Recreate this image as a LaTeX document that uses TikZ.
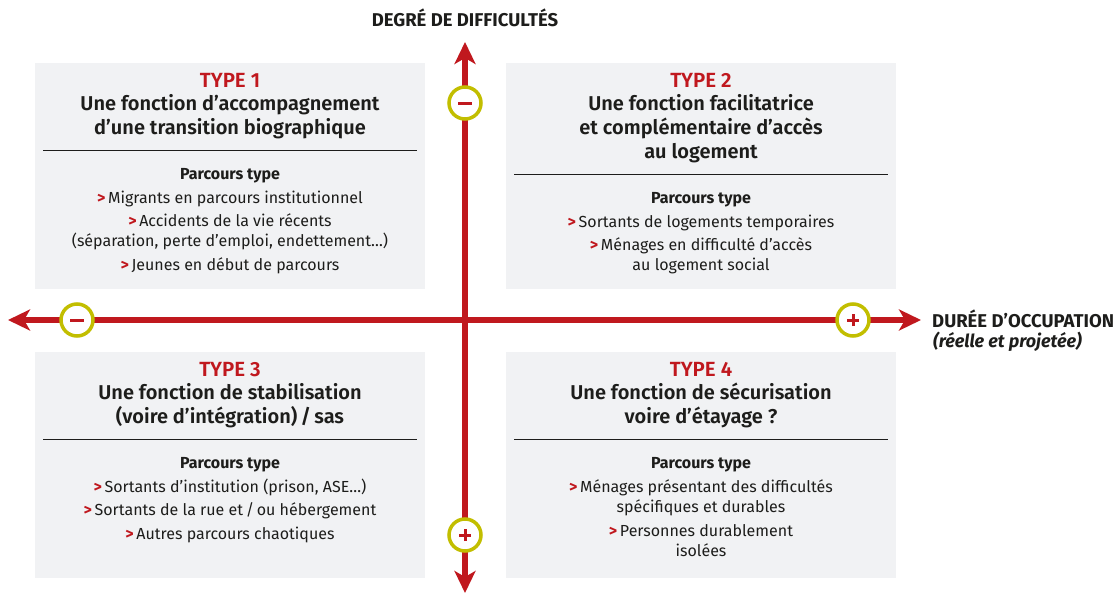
\documentclass[tikz,border=0pt]{standalone}
\usepackage{fontspec}
\setmainfont{Fira Sans}[BoldFont={Fira Sans SemiBold},BoldItalicFont={Fira Sans SemiBold Italic}]
\newfontfamily\firabold{Fira Sans}[UprightFont={Fira Sans Bold},ItalicFont={Fira Sans Bold Italic}]
\usetikzlibrary{arrows.meta}
\definecolor{axred}{HTML}{C0181E}
\definecolor{olive}{HTML}{C2BE00}
\definecolor{boxgray}{HTML}{F1F2F4}
\definecolor{ink}{HTML}{1D1D1B}
\newcommand{\mk}{{\color{axred}\firabold >}\,}
\begin{document}
\begin{tikzpicture}[x=1pt,y=-1pt,
  qbox/.style={fill=boxgray,draw=none,minimum width=390pt,minimum height=226pt,inner sep=0pt},
  typelbl/.style={anchor=base,text=axred,font=\fontsize{20.5}{22}\selectfont\bfseries,inner sep=0pt},
  titlelbl/.style={anchor=base,text=ink,font=\fontsize{20}{22}\selectfont\bfseries,inner sep=0pt},
  ptlbl/.style={anchor=base,text=ink,font=\fontsize{16}{18}\selectfont\firabold,inner sep=0pt},
  itemlbl/.style={anchor=base,text=ink,font=\fontsize{16}{18}\selectfont,inner sep=0pt},
  axlbl/.style={text=ink,font=\fontsize{18.5}{20}\selectfont\firabold,inner sep=0pt},
  rulel/.style={draw=ink,line width=1pt},
  axis/.style={draw=axred,line width=5.5pt,{Stealth[length=22pt,width=21pt,inset=6pt]}-{Stealth[length=22pt,width=21pt,inset=6pt]}},
  ring/.style={circle,draw=olive,line width=3.5pt,fill=white,minimum size=32pt,inner sep=0pt},
  sign/.style={draw=axred,line width=3pt}
]
\useasboundingbox (0,0) rectangle (1115,594);
% boxes
\node[qbox] (b1) at (230,176) {};
\node[qbox] (b2) at (701,176) {};
\node[qbox] (b3) at (230,464.5) {};
\node[qbox] (b4) at (701,464.5) {};
% axes
\coordinate (ytop) at (465,42);
\coordinate (ybot) at (465,593);
\coordinate (xleft) at (8,320);
\coordinate (xright) at (921,320);
\draw[axis] (ybot) -- (ytop);
\draw[axis] (xleft) -- (xright);
% rings
\node[ring] (c1) at (465,103) {};
\node[ring] (c2) at (77,320) {};
\node[ring] (c3) at (853,320) {};
\node[ring] (c4) at (465,535) {};
\draw[sign] ([xshift=-7pt]c1.center) -- ([xshift=7pt]c1.center);
\draw[sign] ([xshift=-7pt]c2.center) -- ([xshift=7pt]c2.center);
\draw[sign] ([xshift=-6pt]c3.center) -- ([xshift=6pt]c3.center);
\draw[sign] ([yshift=-6pt]c3.center) -- ([yshift=6pt]c3.center);
\draw[sign] ([xshift=-6pt]c4.center) -- ([xshift=6pt]c4.center);
\draw[sign] ([yshift=-6pt]c4.center) -- ([yshift=6pt]c4.center);
% axis labels
\node[axlbl,anchor=base] (ly) at (465,27) {DEGRÉ DE DIFFICULTÉS};
\node[axlbl,anchor=base west] (lx) at (932,327) {DURÉE D’OCCUPATION};
\node[axlbl,anchor=base west,font=\fontsize{18}{20}\selectfont\firabold\itshape] (lx2) at (933,347) {(réelle et projetée)};
% box 1
\node[typelbl] (t1) at (230,87) {TYPE 1};
\node[titlelbl] (t1a) at (230,110.7) {Une fonction d’accompagnement};
\node[titlelbl] (t1b) at (230,134.5) {d’une transition biographique};
\coordinate (r1a) at (43,150); \coordinate (r1b) at (417,150);
\draw[rulel] (r1a) -- (r1b);
\node[ptlbl] (p1) at (230,179) {Parcours type};
\node[itemlbl] (i1a) at (230,203) {\mk Migrants en parcours institutionnel};
\node[itemlbl] (i1b) at (230,226) {\mk Accidents de la vie récents};
\node[itemlbl] (i1c) at (230,246) {(séparation, perte d’emploi, endettement…)};
\node[itemlbl] (i1d) at (230,270) {\mk Jeunes en début de parcours};
% box 2
\node[typelbl] (t2) at (701,87) {TYPE 2};
\node[titlelbl] (t2a) at (701,110.7) {Une fonction facilitatrice};
\node[titlelbl] (t2b) at (701,134.5) {et complémentaire d’accès};
\node[titlelbl] (t2c) at (701,158) {au logement};
\coordinate (r2a) at (514,174); \coordinate (r2b) at (888,174);
\draw[rulel] (r2a) -- (r2b);
\node[ptlbl] (p2) at (701,203) {Parcours type};
\node[itemlbl] (i2a) at (701,227) {\mk Sortants de logements temporaires};
\node[itemlbl] (i2b) at (701,250) {\mk Ménages en difficulté d’accès};
\node[itemlbl] (i2c) at (701,270) {au logement social};
% box 3
\node[typelbl] (t3) at (230,376) {TYPE 3};
\node[titlelbl] (t3a) at (230,399.7) {Une fonction de stabilisation};
\node[titlelbl] (t3b) at (230,423.5) {(voire d’intégration)\,/\,sas};
\coordinate (r3a) at (43,439); \coordinate (r3b) at (417,439);
\draw[rulel] (r3a) -- (r3b);
\node[ptlbl] (p3) at (230,468) {Parcours type};
\node[itemlbl] (i3a) at (230,492) {\mk Sortants d’institution (prison, ASE…)};
\node[itemlbl] (i3b) at (230,515.5) {\mk Sortants de la rue et\,/\,ou hébergement};
\node[itemlbl] (i3c) at (230,539) {\mk Autres parcours chaotiques};
% box 4
\node[typelbl] (t4) at (701,376) {TYPE 4};
\node[titlelbl] (t4a) at (701,399.7) {Une fonction de sécurisation};
\node[titlelbl] (t4b) at (701,423.5) {voire d’étayage ?};
\coordinate (r4a) at (514,439); \coordinate (r4b) at (888,439);
\draw[rulel] (r4a) -- (r4b);
\node[ptlbl] (p4) at (701,468) {Parcours type};
\node[itemlbl] (i4a) at (701,492) {\mk Ménages présentant des difficultés};
\node[itemlbl] (i4b) at (701,512) {spécifiques et durables};
\node[itemlbl] (i4c) at (701,536) {\mk Personnes durablement};
\node[itemlbl] (i4d) at (701,556) {isolées};
\end{tikzpicture}
\end{document}
